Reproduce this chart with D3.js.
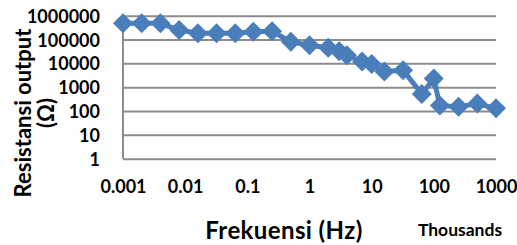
<!DOCTYPE html>
<html>
<head>
<meta charset="utf-8">
<title>Resistansi output vs Frekuensi</title>
<style>
  body { margin: 0; padding: 0; background: #fff; }
  svg { display: block; }
  text { font-family: Lato, "Open Sans", sans-serif; font-weight: bold; fill: #000; }
</style>
</head>
<body>
<div id="chart"></div>
<script src="https://d3js.org/d3.v7.min.js"></script>
<script>
// Frequency (Hz, shown in thousands) and output resistance (ohm)
const freqK = [0.001, 0.002, 0.004, 0.008, 0.016, 0.032, 0.064, 0.125, 0.25, 0.5,
  1, 2, 3, 4, 7, 10, 16, 32, 64, 100, 125, 250, 500, 1000];
const resistance = [480000, 480000, 480000, 250000, 185000, 185000, 185000, 210000, 225000, 80000,
  58000, 45000, 32000, 22000, 12000, 9300, 4600, 5200, 520, 2300, 170, 150, 205, 130];

const xTicks = [0.001, 0.01, 0.1, 1, 10, 100, 1000];
const xTickLabels = ["0.001", "0.01", "0.1", "1", "10", "100", "1000"];
const yTicks = [1, 10, 100, 1000, 10000, 100000, 1000000];
const yTickLabels = ["1", "10", "100", "1000", "10000", "100000", "1000000"];

const width = 517, height = 245;
const plotLeft = 123, plotRight = 496, plotTop = 15.7, plotBottom = 158.7;
const blue = "#4a7ebb";

const svg = d3.select("#chart").append("svg")
  .attr("width", width)
  .attr("height", height);

const x = d3.scaleLog().domain([0.001, 1000]).range([plotLeft, plotRight]);
const y = d3.scaleLog().domain([1, 1000000]).range([plotBottom, plotTop]);

// gridlines + y labels
const yAxis = svg.append("g")
  .attr("transform", `translate(${plotLeft},0)`)
  .call(d3.axisLeft(y)
    .tickValues(yTicks)
    .tickFormat((d, i) => yTickLabels[i])
    .tickSize(-(plotRight - plotLeft))
    .tickPadding(23));
yAxis.select(".domain").remove();
yAxis.selectAll("line").attr("stroke", "#8c8c8c").attr("stroke-width", 2);
yAxis.selectAll("text").attr("font-size", 18).attr("dy", "0.36em");

// left axis line
svg.append("line")
  .attr("x1", plotLeft).attr("x2", plotLeft)
  .attr("y1", plotTop).attr("y2", plotBottom)
  .attr("stroke", "#8c8c8c").attr("stroke-width", 2);

// x labels
const xAxis = svg.append("g")
  .attr("transform", `translate(0,${plotBottom})`)
  .call(d3.axisBottom(x)
    .tickValues(xTicks)
    .tickFormat((d, i) => xTickLabels[i])
    .tickSize(0));
xAxis.select(".domain").remove();
xAxis.selectAll("text").attr("font-size", 18).attr("y", 28).attr("dy", "0.36em");

// series
const line = d3.line()
  .x((d, i) => x(freqK[i]))
  .y(d => y(d));

svg.append("path")
  .datum(resistance)
  .attr("d", line)
  .attr("fill", "none")
  .attr("stroke", blue)
  .attr("stroke-width", 5)
  .attr("stroke-linejoin", "round");

svg.append("g")
  .selectAll("path")
  .data(resistance)
  .join("path")
  .attr("transform", (d, i) => `translate(${x(freqK[i])},${y(d)})`)
  .attr("d", "M0,-10L10,0L0,10L-10,0Z")
  .attr("fill", blue);

// axis titles
svg.append("text")
  .attr("x", 284).attr("y", 239)
  .attr("text-anchor", "middle")
  .attr("font-size", 24)
  .attr("letter-spacing", 0.4)
  .text("Frekuensi (Hz)");

svg.append("text")
  .attr("x", 460).attr("y", 236)
  .attr("text-anchor", "middle")
  .attr("font-size", 17.5)
  .text("Thousands");

const yTitle = svg.append("text")
  .attr("transform", "translate(0,113) rotate(-90)")
  .attr("text-anchor", "middle")
  .attr("font-size", 22);
yTitle.append("tspan").attr("x", 0).attr("y", 31).text("Resistansi output");
yTitle.append("tspan").attr("x", 0).attr("y", 54).text("(Ω)");
</script>
</body>
</html>
